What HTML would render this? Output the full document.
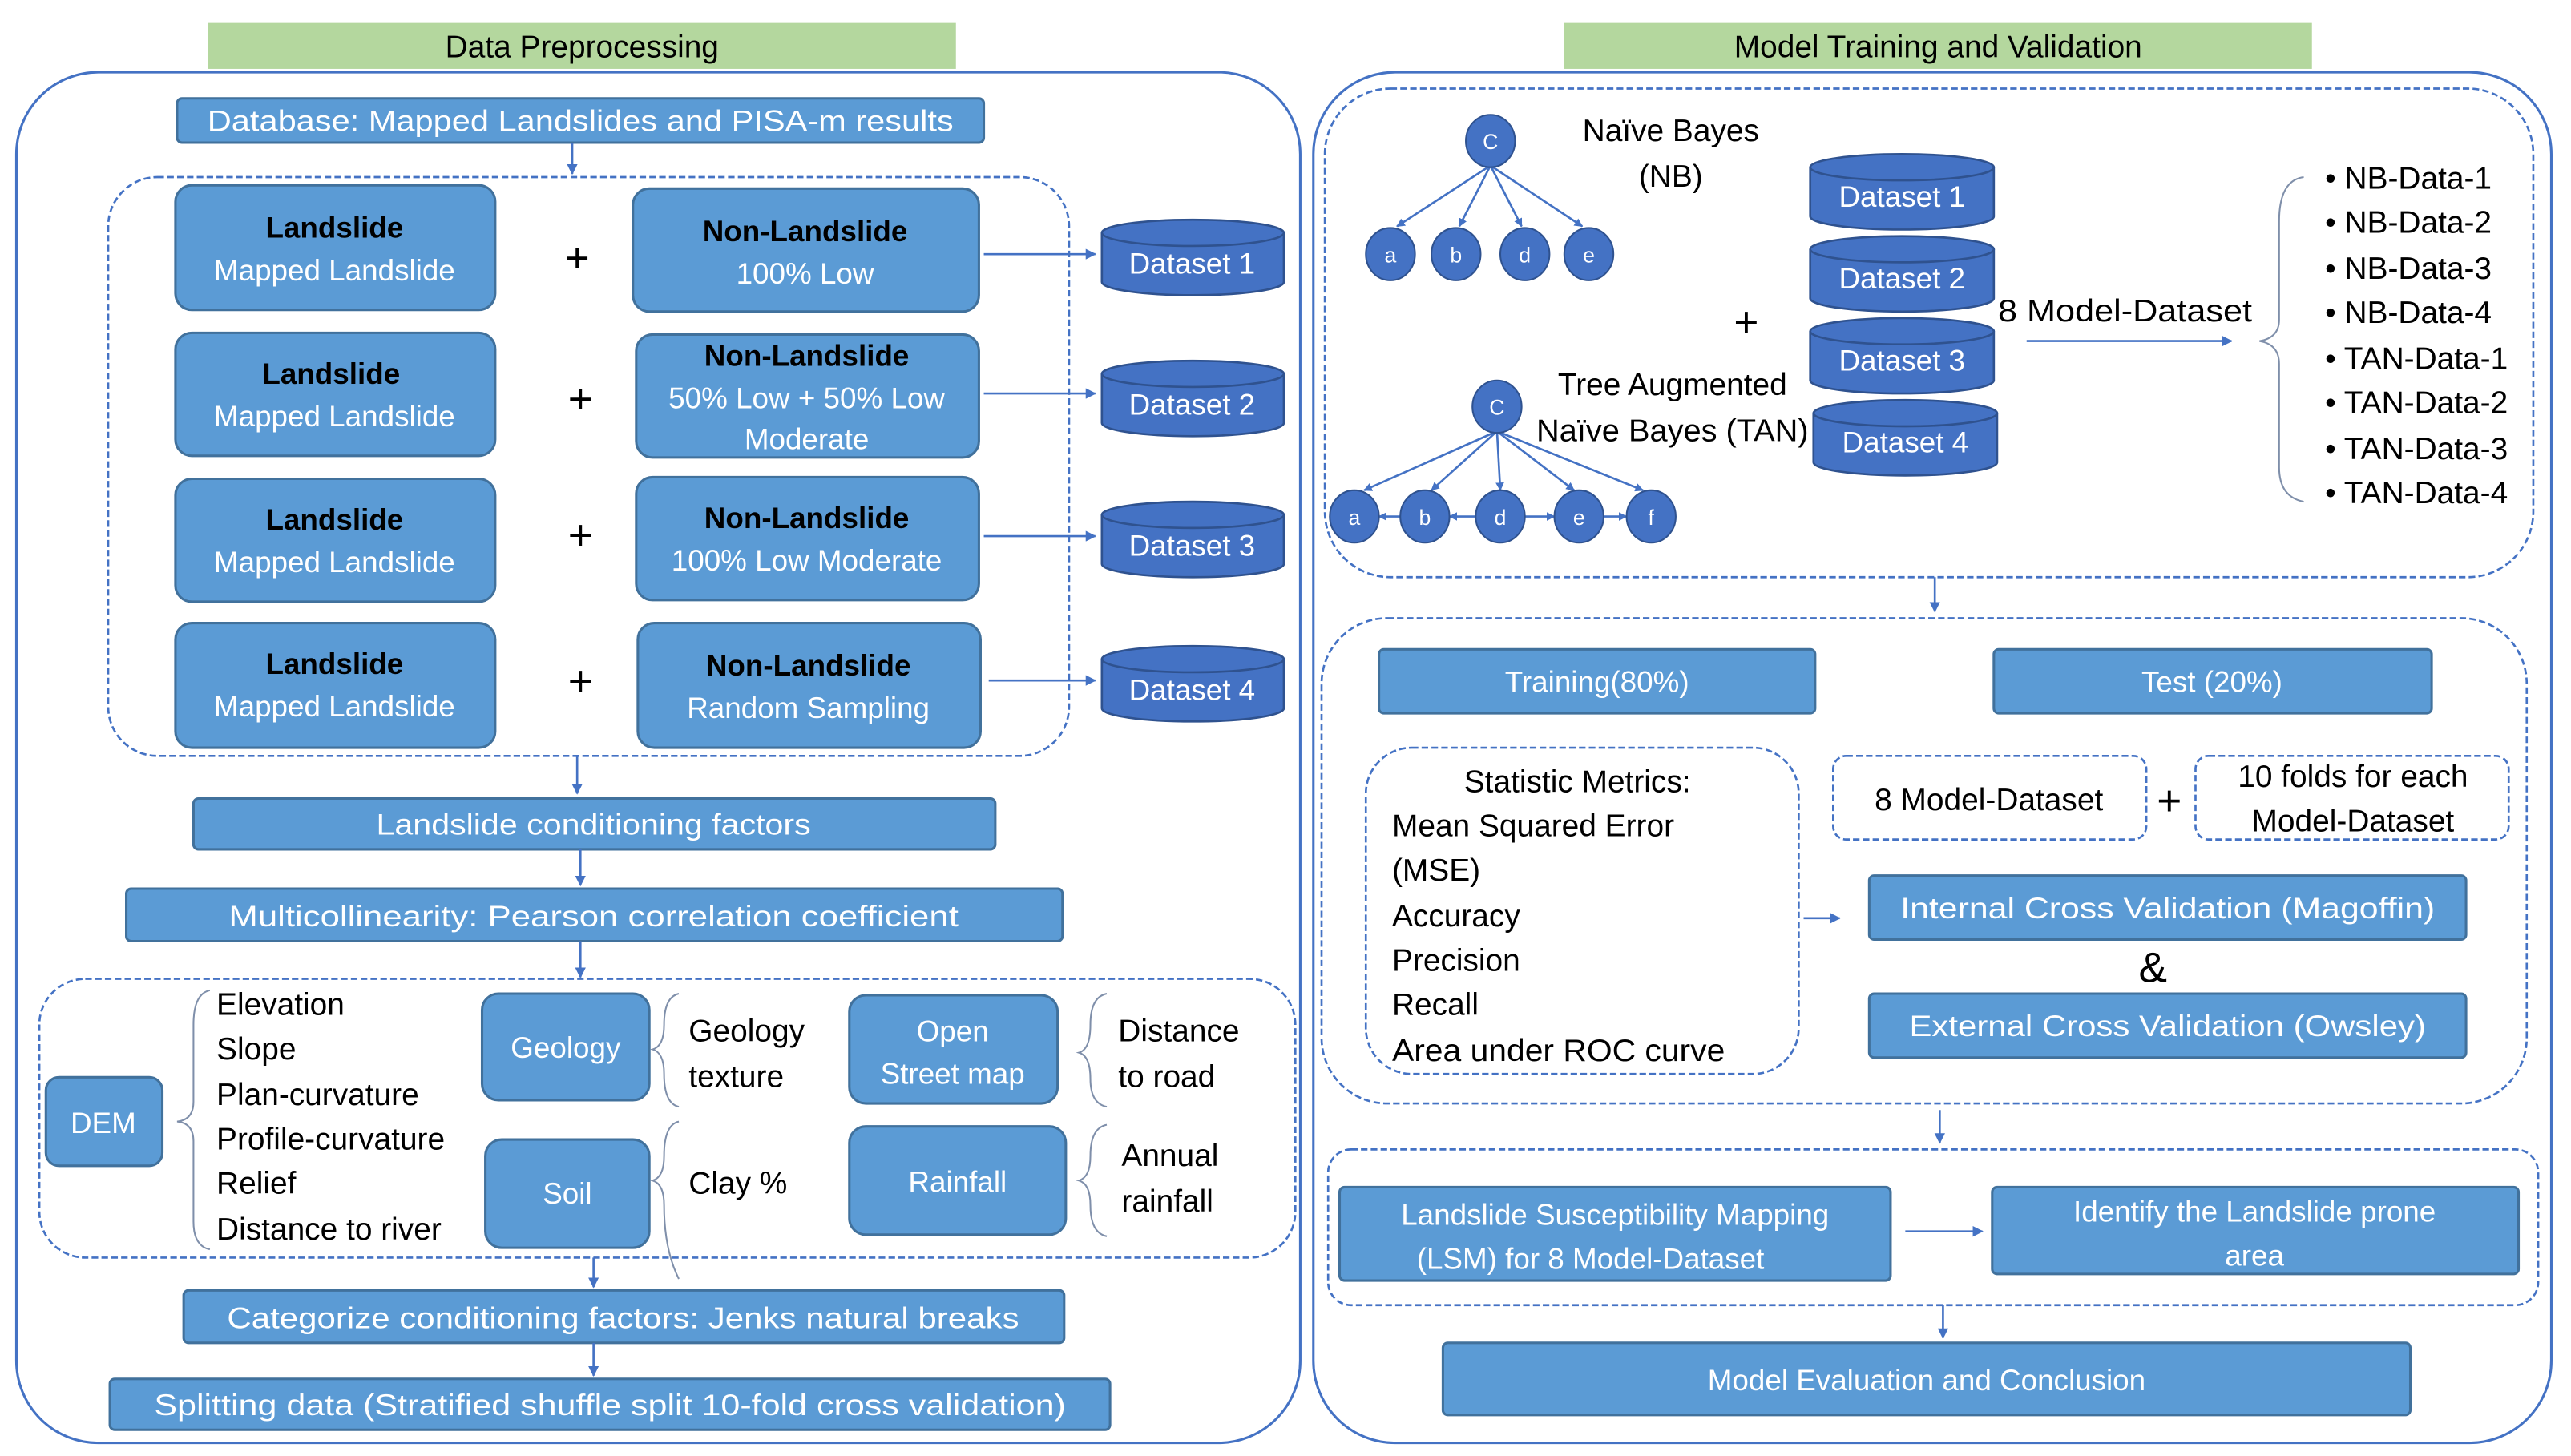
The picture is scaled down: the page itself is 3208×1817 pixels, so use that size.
<!DOCTYPE html>
<html><head><meta charset="utf-8"><style>html,body{margin:0;padding:0;background:#fff}svg{display:block}</style></head>
<body>
<svg xmlns="http://www.w3.org/2000/svg" width="3208" height="1817" viewBox="0 0 1568 888" preserveAspectRatio="none" font-family="Liberation Sans, sans-serif">
<defs>
<marker id="ar" viewBox="0 0 10 10" refX="9" refY="5" markerWidth="5" markerHeight="5" orient="auto"><path d="M0,0L10,5L0,10z" fill="#4472c4"/></marker>
<marker id="ar2" viewBox="0 0 10 10" refX="9" refY="5" markerWidth="4" markerHeight="4" orient="auto"><path d="M0,0L10,5L0,10z" fill="#4472c4"/></marker>
<marker id="ar2s" viewBox="0 0 10 10" refX="1" refY="5" markerWidth="4" markerHeight="4" orient="auto"><path d="M10,0L0,5L10,10z" fill="#4472c4"/></marker>
</defs>
<style>
.b{fill:#5b9bd5;stroke:#41719c;stroke-width:1.5}
.w{fill:#fff;font-size:18px}
.k{fill:#000;font-size:19px}
.kb{fill:#000;font-size:18px;font-weight:bold}
.p{fill:#000;font-size:26px}
.dash{fill:none;stroke:#4472c4;stroke-width:1.3;stroke-dasharray:4,2}
.ln{stroke:#4472c4;stroke-width:1.3;fill:none}
.br{stroke:#7f8faa;stroke-width:1;fill:none}
.cyl{fill:#4472c4;stroke:#2f528f;stroke-width:1.3}
.nd{fill:#4472c4;stroke:#2f528f;stroke-width:1}
.nt{fill:#fff;font-size:13px}
</style>

<!-- LEFT -->
<rect x="127" y="14" width="456" height="28" fill="#b4d79e"/>
<text x="355" y="35" text-anchor="middle" font-size="19">Data Preprocessing</text>
<rect x="10" y="44" width="783" height="836" rx="50" fill="none" stroke="#4472c4" stroke-width="1.5"/>

<rect class="b" x="108" y="60" width="492" height="27" rx="3"/>
<text class="w" x="354" y="80" text-anchor="middle" textLength="455" lengthAdjust="spacingAndGlyphs">Database: Mapped Landslides and PISA-m results</text>
<line class="ln" x1="349" y1="87" x2="349" y2="106" marker-end="url(#ar)"/>
<rect class="dash" x="66" y="108" width="586" height="353" rx="30"/>

<g>
<rect class="b" x="107" y="113" width="195" height="76" rx="10"/>
<text class="kb" x="204" y="145" text-anchor="middle">Landslide</text>
<text class="w" x="204" y="171" text-anchor="middle">Mapped Landslide</text>
<text class="p" x="352" y="166" text-anchor="middle">+</text>
<rect class="b" x="386" y="115" width="211" height="75" rx="10"/>
<text class="kb" x="491" y="147" text-anchor="middle">Non-Landslide</text>
<text class="w" x="491" y="173" text-anchor="middle">100% Low</text>
<line class="ln" x1="600" y1="155" x2="668" y2="155" marker-end="url(#ar)"/>

<rect class="b" x="107" y="203" width="195" height="75" rx="10"/>
<text class="kb" x="202" y="234" text-anchor="middle">Landslide</text>
<text class="w" x="204" y="260" text-anchor="middle">Mapped Landslide</text>
<text class="p" x="354" y="252" text-anchor="middle">+</text>
<rect class="b" x="388" y="204" width="209" height="75" rx="10"/>
<text class="kb" x="492" y="223" text-anchor="middle">Non-Landslide</text>
<text class="w" x="492" y="249" text-anchor="middle">50% Low + 50% Low</text>
<text class="w" x="492" y="274" text-anchor="middle">Moderate</text>
<line class="ln" x1="600" y1="240" x2="668" y2="240" marker-end="url(#ar)"/>

<rect class="b" x="107" y="292" width="195" height="75" rx="10"/>
<text class="kb" x="204" y="323" text-anchor="middle">Landslide</text>
<text class="w" x="204" y="349" text-anchor="middle">Mapped Landslide</text>
<text class="p" x="354" y="335" text-anchor="middle">+</text>
<rect class="b" x="388" y="291" width="209" height="75" rx="10"/>
<text class="kb" x="492" y="322" text-anchor="middle">Non-Landslide</text>
<text class="w" x="492" y="348" text-anchor="middle">100% Low Moderate</text>
<line class="ln" x1="600" y1="327" x2="668" y2="327" marker-end="url(#ar)"/>

<rect class="b" x="107" y="380" width="195" height="76" rx="10"/>
<text class="kb" x="204" y="411" text-anchor="middle">Landslide</text>
<text class="w" x="204" y="437" text-anchor="middle">Mapped Landslide</text>
<text class="p" x="354" y="424" text-anchor="middle">+</text>
<rect class="b" x="389" y="380" width="209" height="76" rx="10"/>
<text class="kb" x="493" y="412" text-anchor="middle">Non-Landslide</text>
<text class="w" x="493" y="438" text-anchor="middle">Random Sampling</text>
<line class="ln" x1="603" y1="415" x2="668" y2="415" marker-end="url(#ar)"/>
</g>

<!-- left cylinders -->
<g>
<path class="cyl" d="M672,142 L672,172 A55.5,8 0 0 0 783,172 L783,142"/><ellipse class="cyl" cx="727.5" cy="142" rx="55.5" ry="8"/>
<text class="w" x="727" y="167" text-anchor="middle">Dataset 1</text>
<path class="cyl" d="M672,228 L672,258 A55.5,8 0 0 0 783,258 L783,228"/><ellipse class="cyl" cx="727.5" cy="228" rx="55.5" ry="8"/>
<text class="w" x="727" y="253" text-anchor="middle">Dataset 2</text>
<path class="cyl" d="M672,314 L672,344 A55.5,8 0 0 0 783,344 L783,314"/><ellipse class="cyl" cx="727.5" cy="314" rx="55.5" ry="8"/>
<text class="w" x="727" y="339" text-anchor="middle">Dataset 3</text>
<path class="cyl" d="M672,402 L672,432 A55.5,8 0 0 0 783,432 L783,402"/><ellipse class="cyl" cx="727.5" cy="402" rx="55.5" ry="8"/>
<text class="w" x="727" y="427" text-anchor="middle">Dataset 4</text>
</g>

<line class="ln" x1="352" y1="461" x2="352" y2="484" marker-end="url(#ar)"/>
<rect class="b" x="118" y="487" width="489" height="31" rx="3"/>
<text class="w" x="362" y="509" text-anchor="middle" textLength="265" lengthAdjust="spacingAndGlyphs">Landslide conditioning factors</text>
<line class="ln" x1="354" y1="518" x2="354" y2="540" marker-end="url(#ar)"/>
<rect class="b" x="77" y="542" width="571" height="32" rx="3"/>
<text class="w" x="362" y="565" text-anchor="middle" textLength="445" lengthAdjust="spacingAndGlyphs">Multicollinearity: Pearson correlation coefficient</text>
<line class="ln" x1="354" y1="574" x2="354" y2="596" marker-end="url(#ar)"/>

<rect class="dash" x="24" y="597" width="766" height="170" rx="28"/>
<rect class="b" x="28" y="657" width="71" height="54" rx="8"/>
<text class="w" x="63" y="691" text-anchor="middle">DEM</text>
<path class="br" d="M128,604 Q118,606 118,625 L118,672 Q118,683 108,684 Q118,685 118,696 L118,745 Q118,760 128,762"/>
<g class="k">
<text x="132" y="619">Elevation</text>
<text x="132" y="646">Slope</text>
<text x="132" y="674">Plan-curvature</text>
<text x="132" y="701">Profile-curvature</text>
<text x="132" y="728">Relief</text>
<text x="132" y="756">Distance to river</text>
</g>
<rect class="b" x="294" y="606" width="102" height="65" rx="10"/>
<text class="w" x="345" y="645" text-anchor="middle">Geology</text>
<path class="br" d="M414,606 Q405,608 405,625 Q405,638 398,640 Q405,642 405,655 Q405,673 414,675"/>
<text class="k" x="420" y="635">Geology</text>
<text class="k" x="420" y="663">texture</text>
<rect class="b" x="296" y="695" width="100" height="66" rx="10"/>
<text class="w" x="346" y="734" text-anchor="middle">Soil</text>
<path class="br" d="M414,684 Q405,686 405,705 Q405,718 398,720 Q405,722 405,735 Q405,762 414,780"/>
<text class="k" x="420" y="728">Clay %</text>
<rect class="b" x="518" y="607" width="127" height="66" rx="10"/>
<text class="w" x="581" y="635" text-anchor="middle">Open</text>
<text class="w" x="581" y="661" text-anchor="middle">Street map</text>
<path class="br" d="M675,606 Q665,608 665,625 Q665,640 658,642 Q665,644 665,658 Q665,673 675,675"/>
<text class="k" x="682" y="635">Distance</text>
<text class="k" x="682" y="663">to road</text>
<rect class="b" x="518" y="687" width="132" height="66" rx="10"/>
<text class="w" x="584" y="727" text-anchor="middle">Rainfall</text>
<path class="br" d="M675,686 Q665,688 665,705 Q665,718 658,720 Q665,722 665,735 Q665,752 675,754"/>
<text class="k" x="684" y="711">Annual</text>
<text class="k" x="684" y="739">rainfall</text>

<line class="ln" x1="362" y1="767" x2="362" y2="785" marker-end="url(#ar)"/>
<rect class="b" x="112" y="787" width="537" height="32" rx="3"/>
<text class="w" x="380" y="810" text-anchor="middle" textLength="483" lengthAdjust="spacingAndGlyphs">Categorize conditioning factors: Jenks natural breaks</text>
<line class="ln" x1="362" y1="819" x2="362" y2="839" marker-end="url(#ar)"/>
<rect class="b" x="67" y="841" width="610" height="31" rx="3"/>
<text class="w" x="372" y="863" text-anchor="middle" textLength="556" lengthAdjust="spacingAndGlyphs">Splitting data (Stratified shuffle split 10-fold cross validation)</text>

<!-- RIGHT -->
<rect x="954" y="14" width="456" height="28" fill="#b4d79e"/>
<text x="1182" y="35" text-anchor="middle" font-size="19">Model Training and Validation</text>
<rect x="801" y="44" width="755" height="836" rx="50" fill="none" stroke="#4472c4" stroke-width="1.5"/>
<rect class="dash" x="808" y="54" width="737" height="298" rx="40"/>

<!-- NB graph -->
<g>
<line class="ln" x1="909" y1="101" x2="852" y2="138" marker-end="url(#ar2)"/>
<line class="ln" x1="909" y1="101" x2="890" y2="138" marker-end="url(#ar2)"/>
<line class="ln" x1="909" y1="101" x2="928" y2="138" marker-end="url(#ar2)"/>
<line class="ln" x1="909" y1="101" x2="965" y2="138" marker-end="url(#ar2)"/>
<ellipse class="nd" cx="909" cy="86" rx="15" ry="16"/><text class="nt" x="909" y="91" text-anchor="middle">C</text>
<ellipse class="nd" cx="848" cy="155" rx="15" ry="16"/><text class="nt" x="848" y="160" text-anchor="middle">a</text>
<ellipse class="nd" cx="888" cy="155" rx="15" ry="16"/><text class="nt" x="888" y="160" text-anchor="middle">b</text>
<ellipse class="nd" cx="930" cy="155" rx="15" ry="16"/><text class="nt" x="930" y="160" text-anchor="middle">d</text>
<ellipse class="nd" cx="969" cy="155" rx="15" ry="16"/><text class="nt" x="969" y="160" text-anchor="middle">e</text>
</g>
<text class="k" x="1019" y="86" text-anchor="middle">Naïve Bayes</text>
<text class="k" x="1019" y="114" text-anchor="middle">(NB)</text>

<!-- TAN graph -->
<g>
<line class="ln" x1="913" y1="263" x2="832" y2="299" marker-end="url(#ar2)"/>
<line class="ln" x1="913" y1="263" x2="873" y2="299" marker-end="url(#ar2)"/>
<line class="ln" x1="913" y1="263" x2="915" y2="299" marker-end="url(#ar2)"/>
<line class="ln" x1="913" y1="263" x2="960" y2="299" marker-end="url(#ar2)"/>
<line class="ln" x1="913" y1="263" x2="1002" y2="299" marker-end="url(#ar2)"/>
<line class="ln" x1="841" y1="315" x2="854" y2="315" marker-start="url(#ar2s)"/>
<line class="ln" x1="884" y1="315" x2="900" y2="315" marker-start="url(#ar2s)"/>
<line class="ln" x1="930" y1="315" x2="948" y2="315" marker-end="url(#ar2)"/>
<line class="ln" x1="978" y1="315" x2="992" y2="315" marker-end="url(#ar2)"/>
<ellipse class="nd" cx="913" cy="248" rx="15" ry="16"/><text class="nt" x="913" y="253" text-anchor="middle">C</text>
<ellipse class="nd" cx="826" cy="315" rx="15" ry="16"/><text class="nt" x="826" y="320" text-anchor="middle">a</text>
<ellipse class="nd" cx="869" cy="315" rx="15" ry="16"/><text class="nt" x="869" y="320" text-anchor="middle">b</text>
<ellipse class="nd" cx="915" cy="315" rx="15" ry="16"/><text class="nt" x="915" y="320" text-anchor="middle">d</text>
<ellipse class="nd" cx="963" cy="315" rx="15" ry="16"/><text class="nt" x="963" y="320" text-anchor="middle">e</text>
<ellipse class="nd" cx="1007" cy="315" rx="15" ry="16"/><text class="nt" x="1007" y="320" text-anchor="middle">f</text>
</g>
<text class="k" x="1020" y="241" text-anchor="middle">Tree Augmented</text>
<text class="k" x="1020" y="269" text-anchor="middle" textLength="166" lengthAdjust="spacingAndGlyphs">Naïve Bayes (TAN)</text>
<text class="p" x="1065" y="205" text-anchor="middle">+</text>

<g>
<path class="cyl" d="M1104,102 L1104,132 A56,8 0 0 0 1216,132 L1216,102"/><ellipse class="cyl" cx="1160" cy="102" rx="56" ry="8"/>
<text class="w" x="1160" y="126" text-anchor="middle">Dataset 1</text>
<path class="cyl" d="M1104,152 L1104,182 A56,8 0 0 0 1216,182 L1216,152"/><ellipse class="cyl" cx="1160" cy="152" rx="56" ry="8"/>
<text class="w" x="1160" y="176" text-anchor="middle">Dataset 2</text>
<path class="cyl" d="M1104,202 L1104,232 A56,8 0 0 0 1216,232 L1216,202"/><ellipse class="cyl" cx="1160" cy="202" rx="56" ry="8"/>
<text class="w" x="1160" y="226" text-anchor="middle">Dataset 3</text>
<path class="cyl" d="M1106,252 L1106,282 A56,8 0 0 0 1218,282 L1218,252"/><ellipse class="cyl" cx="1162" cy="252" rx="56" ry="8"/>
<text class="w" x="1162" y="276" text-anchor="middle">Dataset 4</text>
</g>
<text class="k" x="1296" y="196" text-anchor="middle" textLength="155" lengthAdjust="spacingAndGlyphs">8 Model-Dataset</text>
<line class="ln" x1="1236" y1="208" x2="1361" y2="208" marker-end="url(#ar)"/>
<path class="br" d="M1405,108 Q1390,110 1390,135 L1390,195 Q1390,206 1378,208 Q1390,210 1390,222 L1390,285 Q1390,303 1405,306"/>
<g class="k">
<text x="1418" y="115">• NB-Data-1</text>
<text x="1418" y="142">• NB-Data-2</text>
<text x="1418" y="170">• NB-Data-3</text>
<text x="1418" y="197">• NB-Data-4</text>
<text x="1418" y="225">• TAN-Data-1</text>
<text x="1418" y="252">• TAN-Data-2</text>
<text x="1418" y="280">• TAN-Data-3</text>
<text x="1418" y="307">• TAN-Data-4</text>
</g>

<line class="ln" x1="1180" y1="352" x2="1180" y2="373" marker-end="url(#ar)"/>
<rect class="dash" x="806" y="377" width="735" height="296" rx="40"/>
<rect class="b" x="841" y="396" width="266" height="39" rx="3"/>
<text class="w" x="974" y="422" text-anchor="middle">Training(80%)</text>
<rect class="b" x="1216" y="396" width="267" height="39" rx="3"/>
<text class="w" x="1349" y="422" text-anchor="middle">Test (20%)</text>

<rect class="dash" x="833" y="456" width="264" height="199" rx="28"/>
<g class="k">
<text x="962" y="483" text-anchor="middle">Statistic Metrics:</text>
<text x="849" y="510">Mean Squared Error</text>
<text x="849" y="537">(MSE)</text>
<text x="849" y="565">Accuracy</text>
<text x="849" y="592">Precision</text>
<text x="849" y="619">Recall</text>
<text x="849" y="647" textLength="203" lengthAdjust="spacingAndGlyphs">Area under ROC curve</text>
</g>
<line class="ln" x1="1100" y1="560" x2="1122" y2="560" marker-end="url(#ar)"/>
<rect class="dash" x="1118" y="461" width="191" height="51" rx="8"/>
<text class="k" x="1213" y="494" text-anchor="middle">8 Model-Dataset</text>
<text class="p" x="1323" y="497" text-anchor="middle">+</text>
<rect class="dash" x="1339" y="461" width="191" height="51" rx="8"/>
<text class="k" x="1435" y="480" text-anchor="middle">10 folds for each</text>
<text class="k" x="1435" y="507" text-anchor="middle">Model-Dataset</text>
<rect class="b" x="1140" y="534" width="364" height="39" rx="3"/>
<text class="w" x="1322" y="560" text-anchor="middle" textLength="326" lengthAdjust="spacingAndGlyphs">Internal Cross Validation (Magoffin)</text>
<text class="p" x="1313" y="599" text-anchor="middle">&amp;</text>
<rect class="b" x="1140" y="606" width="364" height="39" rx="3"/>
<text class="w" x="1322" y="632" text-anchor="middle" textLength="315" lengthAdjust="spacingAndGlyphs">External Cross Validation (Owsley)</text>

<line class="ln" x1="1183" y1="677" x2="1183" y2="697" marker-end="url(#ar)"/>
<rect class="dash" x="810" y="701" width="738" height="95" rx="14"/>
<rect class="b" x="817" y="724" width="336" height="57" rx="3"/>
<text class="w" x="985" y="747" text-anchor="middle">Landslide Susceptibility Mapping</text>
<text class="w" x="970" y="774" text-anchor="middle">(LSM) for 8 Model-Dataset</text>
<line class="ln" x1="1162" y1="751" x2="1209" y2="751" marker-end="url(#ar)"/>
<rect class="b" x="1215" y="724" width="321" height="53" rx="3"/>
<text class="w" x="1375" y="745" text-anchor="middle">Identify the Landslide prone</text>
<text class="w" x="1375" y="772" text-anchor="middle">area</text>
<line class="ln" x1="1185" y1="796" x2="1185" y2="816" marker-end="url(#ar)"/>
<rect class="b" x="880" y="819" width="590" height="44" rx="3"/>
<text class="w" x="1175" y="848" text-anchor="middle">Model Evaluation and Conclusion</text>
</svg>
</body></html>
